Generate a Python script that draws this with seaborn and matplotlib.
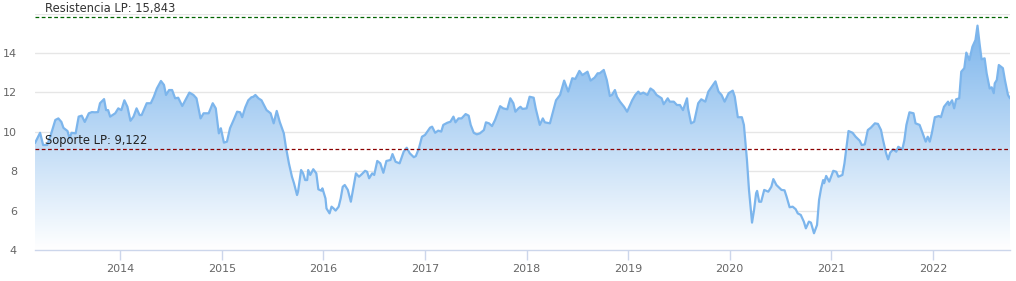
import numpy as np
import pandas as pd
import matplotlib
matplotlib.use("Agg")
import matplotlib.pyplot as plt
import seaborn as sns
from matplotlib.colors import LinearSegmentedColormap

# ---- data (decimal year, price) ----
years = [
    2013.16, 2013.21, 2013.24, 2013.28, 2013.31, 2013.36, 2013.39, 2013.42, 2013.44, 2013.48,
    2013.50, 2013.52, 2013.56, 2013.59, 2013.62, 2013.65, 2013.69, 2013.72, 2013.75, 2013.78,
    2013.80, 2013.84, 2013.86, 2013.88, 2013.90, 2013.95, 2013.98, 2014.01, 2014.04, 2014.07,
    2014.10, 2014.13, 2014.16, 2014.19, 2014.21, 2014.26, 2014.30, 2014.33, 2014.36, 2014.40,
    2014.43, 2014.45, 2014.48, 2014.51, 2014.54, 2014.57, 2014.61, 2014.64, 2014.68, 2014.72,
    2014.75, 2014.79, 2014.82, 2014.87, 2014.91, 2014.94, 2014.97, 2014.99, 2015.02, 2015.05,
    2015.08, 2015.12, 2015.15, 2015.18, 2015.20, 2015.23, 2015.26, 2015.29, 2015.31, 2015.33,
    2015.36, 2015.39, 2015.44, 2015.48, 2015.49, 2015.51, 2015.54, 2015.57, 2015.61, 2015.63,
    2015.66, 2015.69, 2015.71, 2015.74, 2015.75, 2015.78, 2015.80, 2015.82, 2015.84, 2015.85,
    2015.87, 2015.90, 2015.93, 2015.95, 2015.98, 2015.99, 2016.02, 2016.03, 2016.06, 2016.08,
    2016.10, 2016.12, 2016.15, 2016.17, 2016.19, 2016.21, 2016.24, 2016.27, 2016.30, 2016.32,
    2016.35, 2016.38, 2016.41, 2016.43, 2016.45, 2016.48, 2016.50, 2016.53, 2016.56, 2016.59,
    2016.62, 2016.66, 2016.68, 2016.71, 2016.75, 2016.79, 2016.82, 2016.85, 2016.89, 2016.91,
    2016.94, 2016.97, 2017.00, 2017.05, 2017.07, 2017.10, 2017.13, 2017.16, 2017.18, 2017.22,
    2017.25, 2017.28, 2017.30, 2017.33, 2017.36, 2017.40, 2017.43, 2017.45, 2017.48, 2017.51,
    2017.54, 2017.58, 2017.60, 2017.63, 2017.66, 2017.69, 2017.74, 2017.77, 2017.81, 2017.84,
    2017.87, 2017.89, 2017.92, 2017.94, 2017.96, 2018.00, 2018.03, 2018.07, 2018.09, 2018.13,
    2018.16, 2018.18, 2018.23, 2018.26, 2018.29, 2018.33, 2018.37, 2018.41, 2018.45, 2018.48,
    2018.52, 2018.55, 2018.60, 2018.63, 2018.67, 2018.70, 2018.72, 2018.76, 2018.79, 2018.82,
    2018.84, 2018.87, 2018.89, 2018.92, 2018.96, 2018.99, 2019.04, 2019.07, 2019.10, 2019.12,
    2019.15, 2019.19, 2019.22, 2019.25, 2019.28, 2019.33, 2019.35, 2019.39, 2019.41, 2019.45,
    2019.48, 2019.51, 2019.54, 2019.58, 2019.59, 2019.62, 2019.65, 2019.69, 2019.72, 2019.76,
    2019.79, 2019.82, 2019.86, 2019.89, 2019.92, 2019.95, 2019.99, 2020.03, 2020.05, 2020.08,
    2020.12, 2020.14, 2020.17, 2020.19, 2020.22, 2020.24, 2020.26, 2020.27, 2020.29, 2020.31,
    2020.34, 2020.38, 2020.41, 2020.43, 2020.46, 2020.51, 2020.54, 2020.56, 2020.59, 2020.62,
    2020.65, 2020.67, 2020.70, 2020.73, 2020.75, 2020.78, 2020.80, 2020.83, 2020.86, 2020.88,
    2020.90, 2020.92, 2020.93, 2020.95, 2020.98, 2021.02, 2021.05, 2021.07, 2021.11, 2021.13,
    2021.15, 2021.17, 2021.21, 2021.24, 2021.28, 2021.30, 2021.33, 2021.36, 2021.39, 2021.43,
    2021.46, 2021.49, 2021.51, 2021.54, 2021.56, 2021.58, 2021.61, 2021.64, 2021.66, 2021.70,
    2021.72, 2021.74, 2021.77, 2021.81, 2021.83, 2021.87, 2021.90, 2021.93, 2021.95, 2021.97,
    2021.99, 2022.02, 2022.06, 2022.08, 2022.11, 2022.15, 2022.16, 2022.19, 2022.21, 2022.23,
    2022.26, 2022.28, 2022.31, 2022.33, 2022.36, 2022.39, 2022.42, 2022.44, 2022.46, 2022.48,
    2022.51, 2022.53, 2022.56, 2022.58, 2022.60, 2022.61, 2022.63, 2022.65, 2022.69, 2022.71,
    2022.74, 2022.76,
]
prices = [
    9.43, 9.95, 9.33, 9.33, 9.75, 10.60, 10.68, 10.50, 10.20, 10.04,
    9.67, 9.95, 9.92, 10.77, 10.82, 10.50, 10.94, 11.00, 10.99, 11.00,
    11.45, 11.66, 11.10, 11.10, 10.77, 10.94, 11.19, 11.10, 11.60, 11.27,
    10.56, 10.77, 11.19, 10.85, 10.85, 11.45, 11.45, 11.78, 12.20, 12.58,
    12.38, 11.87, 12.12, 12.12, 11.70, 11.73, 11.31, 11.60, 11.99, 11.87,
    11.70, 10.68, 10.94, 10.94, 11.45, 11.19, 9.92, 10.18, 9.45, 9.50,
    10.18, 10.65, 11.02, 10.99, 10.74, 11.24, 11.60, 11.75, 11.78, 11.87,
    11.70, 11.60, 11.10, 10.94, 10.77, 10.43, 11.06, 10.50, 9.92, 9.24,
    8.40, 7.72, 7.39, 6.79, 6.96, 8.06, 7.89, 7.55, 7.55, 8.06,
    7.81, 8.10, 7.89, 7.08, 7.01, 7.13, 6.62, 6.11, 5.86, 6.20,
    6.11, 6.00, 6.20, 6.62, 7.21, 7.30, 7.05, 6.45, 7.30, 7.89,
    7.72, 7.86, 8.02, 7.97, 7.64, 7.89, 7.81, 8.52, 8.40, 7.92,
    8.52, 8.57, 8.87, 8.48, 8.40, 8.99, 9.19, 8.91, 8.71, 8.77,
    9.16, 9.75, 9.84, 10.21, 10.26, 9.95, 10.06, 10.01, 10.35, 10.46,
    10.51, 10.77, 10.48, 10.68, 10.68, 10.90, 10.82, 10.35, 9.95, 9.87,
    9.92, 10.09, 10.48, 10.43, 10.29, 10.60, 11.30, 11.19, 11.14, 11.70,
    11.45, 11.02, 11.19, 11.27, 11.16, 11.19, 11.78, 11.73, 11.19, 10.35,
    10.68, 10.48, 10.43, 11.02, 11.60, 11.87, 12.60, 12.04, 12.72, 12.68,
    13.09, 12.88, 13.05, 12.60, 12.75, 12.97, 12.97, 13.14, 12.63, 11.82,
    11.87, 12.12, 11.78, 11.53, 11.27, 11.02, 11.60, 11.87, 12.04, 11.92,
    11.99, 11.87, 12.20, 12.09, 11.87, 11.70, 11.40, 11.70, 11.53, 11.53,
    11.36, 11.36, 11.10, 11.70, 11.19, 10.43, 10.51, 11.45, 11.65, 11.53,
    12.04, 12.26, 12.56, 12.04, 11.87, 11.53, 11.96, 12.09, 11.78, 10.74,
    10.74, 10.35, 8.57, 7.05, 5.39, 6.03, 6.88, 7.00, 6.45, 6.45,
    7.05, 6.96, 7.21, 7.60, 7.30, 7.05, 7.03, 6.71, 6.17, 6.20,
    6.07, 5.86, 5.78, 5.44, 5.10, 5.44, 5.39, 4.85, 5.27, 6.54,
    7.13, 7.55, 7.39, 7.76, 7.47, 8.02, 7.97, 7.72, 7.81, 8.40,
    9.24, 10.04, 9.95, 9.75, 9.55, 9.33, 9.36, 10.09, 10.21, 10.43,
    10.40, 10.09, 9.58, 8.91, 8.60, 8.94, 9.11, 8.99, 9.24, 9.11,
    9.58, 10.35, 10.99, 10.94, 10.43, 10.35, 9.92, 9.50, 9.75, 9.50,
    9.92, 10.74, 10.80, 10.74, 11.27, 11.53, 11.36, 11.60, 11.19, 11.65,
    11.70, 13.05, 13.23, 14.02, 13.64, 14.32, 14.66, 15.39, 14.49, 13.68,
    13.73, 12.97, 12.20, 12.26, 11.96, 12.46, 12.63, 13.39, 13.23, 12.63,
    11.87, 11.70,
]
resistance = 15.843
support = 9.122
y_ticks = [4, 6, 8, 10, 12, 14]
x_ticks = [2014, 2015, 2016, 2017, 2018, 2019, 2020, 2021, 2022]

df = pd.DataFrame({"year": years, "price": prices})

sns.set_theme(style="white")
plt.rcParams["font.family"] = ["DejaVu Sans"]

W, H, DPI = 1016, 281, 100
fig = plt.figure(figsize=(W / DPI, H / DPI), dpi=DPI)
ax = fig.add_axes([35 / W, (H - 250) / H, (1010 - 35) / W, (250 - 13.6) / H])

line_color = "#7cb5ec"
ymin, ymax = 4, 16
xmin, xmax = df["year"].min(), df["year"].max()

# gradient fill under the line
poly = ax.fill_between(df["year"], df["price"], ymin, color="none", lw=0)
top = df["price"].max()
cmap = LinearSegmentedColormap.from_list(
    "grad", [(1, 1, 1, 1), (124 / 255, 181 / 255, 236 / 255, 1)])
grad = np.linspace(0, 1, 256).reshape(-1, 1)
img = ax.imshow(grad, cmap=cmap, aspect="auto", origin="lower",
                extent=[xmin, xmax, ymin, top], zorder=1)
path = poly.get_paths()[0]
img.set_clip_path(path, transform=ax.transData)

sns.lineplot(data=df, x="year", y="price", ax=ax, color=line_color,
             lw=1.6, zorder=3)

# horizontal gridlines
for v in [6, 8, 10, 12, 14, 16]:
    ax.axhline(v, color="#e6e6e6", lw=1.0, zorder=0.5)
ax.set_axisbelow(True)

# resistance / support lines
ax.axhline(resistance, color="#006400", lw=0.9, ls=(0, (3, 2)), zorder=4)
ax.axhline(support, color="#8b0000", lw=0.9, ls=(0, (3, 2)), zorder=4)
fmt = lambda v: f"{v:.3f}".replace(".", ",")
ax.annotate(f"Resistencia LP: {fmt(resistance)}", xy=(xmin, resistance),
            xytext=(7, 1.5), textcoords="offset points", ha="left",
            va="bottom", fontsize=8.3, color="#333333", zorder=5)
ax.annotate(f"Soporte LP: {fmt(support)}", xy=(xmin, support),
            xytext=(7, 1.5), textcoords="offset points", ha="left",
            va="bottom", fontsize=8.3, color="#222222", zorder=5)

ax.set_xlim(xmin, xmax)
ax.set_ylim(ymin, ymax)
ax.set_xticks(x_ticks)
ax.set_xticklabels([str(t) for t in x_ticks])
ax.set_yticks(y_ticks)
ax.set_yticklabels([str(t) for t in y_ticks])
ax.tick_params(axis="x", length=7, width=1, color="#ccd6eb", labelsize=8,
               labelcolor="#666666", pad=3, bottom=True)
ax.tick_params(axis="y", length=0, labelsize=8, labelcolor="#666666", pad=13)
ax.set_xlabel("")
ax.set_ylabel("")
for s in ["top", "right", "left"]:
    ax.spines[s].set_visible(False)
ax.spines["bottom"].set_color("#ccd6eb")
ax.spines["bottom"].set_linewidth(1)
ax.grid(False)

fig.savefig("out.png", dpi=DPI, facecolor="white")
